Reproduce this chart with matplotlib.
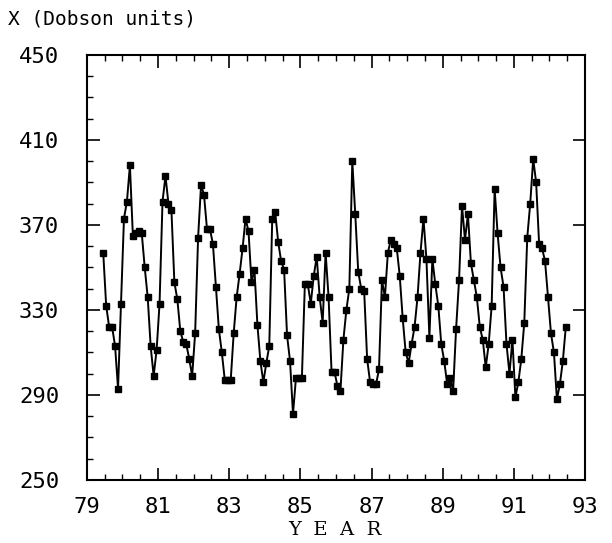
import numpy as np
import matplotlib
matplotlib.use("Agg")
import matplotlib.pyplot as plt
from matplotlib.ticker import MultipleLocator, FixedLocator

# monthly total ozone, June 1979 .. June 1992
start_year = 79
start_month = 6
ozone = [
    357, 332, 322, 322, 313, 293, 333, 373, 381, 398,
    365, 366, 367, 366, 350, 336, 313, 299, 311, 333,
    381, 393, 380, 377, 343, 335, 320, 315, 314, 307,
    299, 319, 364, 389, 384, 368, 368, 361, 341, 321,
    310, 297, 297, 297, 319, 336, 347, 359, 373, 367,
    343, 349, 323, 306, 296, 305, 313, 373, 376, 362,
    353, 349, 318, 306, 281, 298, 298, 298, 342, 342,
    333, 346, 355, 336, 324, 357, 336, 301, 301, 294,
    292, 316, 330, 340, 400, 375, 348, 340, 339, 307,
    296, 295, 295, 302, 344, 336, 357, 363, 361, 359,
    346, 326, 310, 305, 314, 322, 336, 357, 373, 354,
    317, 354, 342, 332, 314, 306, 295, 298, 292, 321,
    344, 379, 363, 375, 352, 344, 336, 322, 316, 303,
    314, 332, 387, 366, 350, 341, 314, 300, 316, 289,
    296, 307, 324, 364, 380, 401, 390, 361, 359, 353,
    336, 319, 310, 288, 295, 306, 322,
]
months = np.arange(len(ozone))
years = start_year + (start_month - 0.5 + months) / 12.0

x_ticks = [79, 81, 83, 85, 87, 89, 91, 93]
y_ticks = [250, 290, 330, 370, 410, 450]

plt.rcParams["font.family"] = ["DejaVu Sans Mono"]

fig = plt.figure(figsize=(6.12, 5.43), dpi=100)
ax = fig.add_axes([0.142, 0.116, 0.814, 0.783])

ax.plot(years, ozone, color="black", lw=1.4, marker="s", ms=4.5,
        mfc="black", mec="black")

ax.set_xlim(79, 93)
ax.set_ylim(250, 450)
ax.xaxis.set_major_locator(FixedLocator(x_ticks))
ax.xaxis.set_minor_locator(MultipleLocator(0.5))
ax.yaxis.set_major_locator(FixedLocator(y_ticks))
ax.yaxis.set_minor_locator(MultipleLocator(10))
ax.tick_params(axis="both", which="major", direction="in", length=9,
               width=1.2, labelsize=16)
ax.tick_params(axis="both", which="minor", direction="in", length=4, width=1)
ax.tick_params(axis="y", which="major", pad=20)
ax.tick_params(axis="x", which="major", pad=12)
ax.tick_params(axis="x", which="both", top=True)
ax.tick_params(axis="y", which="major", right=True)
for s in ax.spines.values():
    s.set_linewidth(1.5)

fig.text(0.013, 0.965, "X (Dobson units)", fontsize=14, ha="left", va="center")
fig.text(0.548, 0.024, "Y  E  A  R", fontsize=14, ha="center", va="center",
         family=["DejaVu Serif"])

fig.savefig("out.png", dpi=100)
